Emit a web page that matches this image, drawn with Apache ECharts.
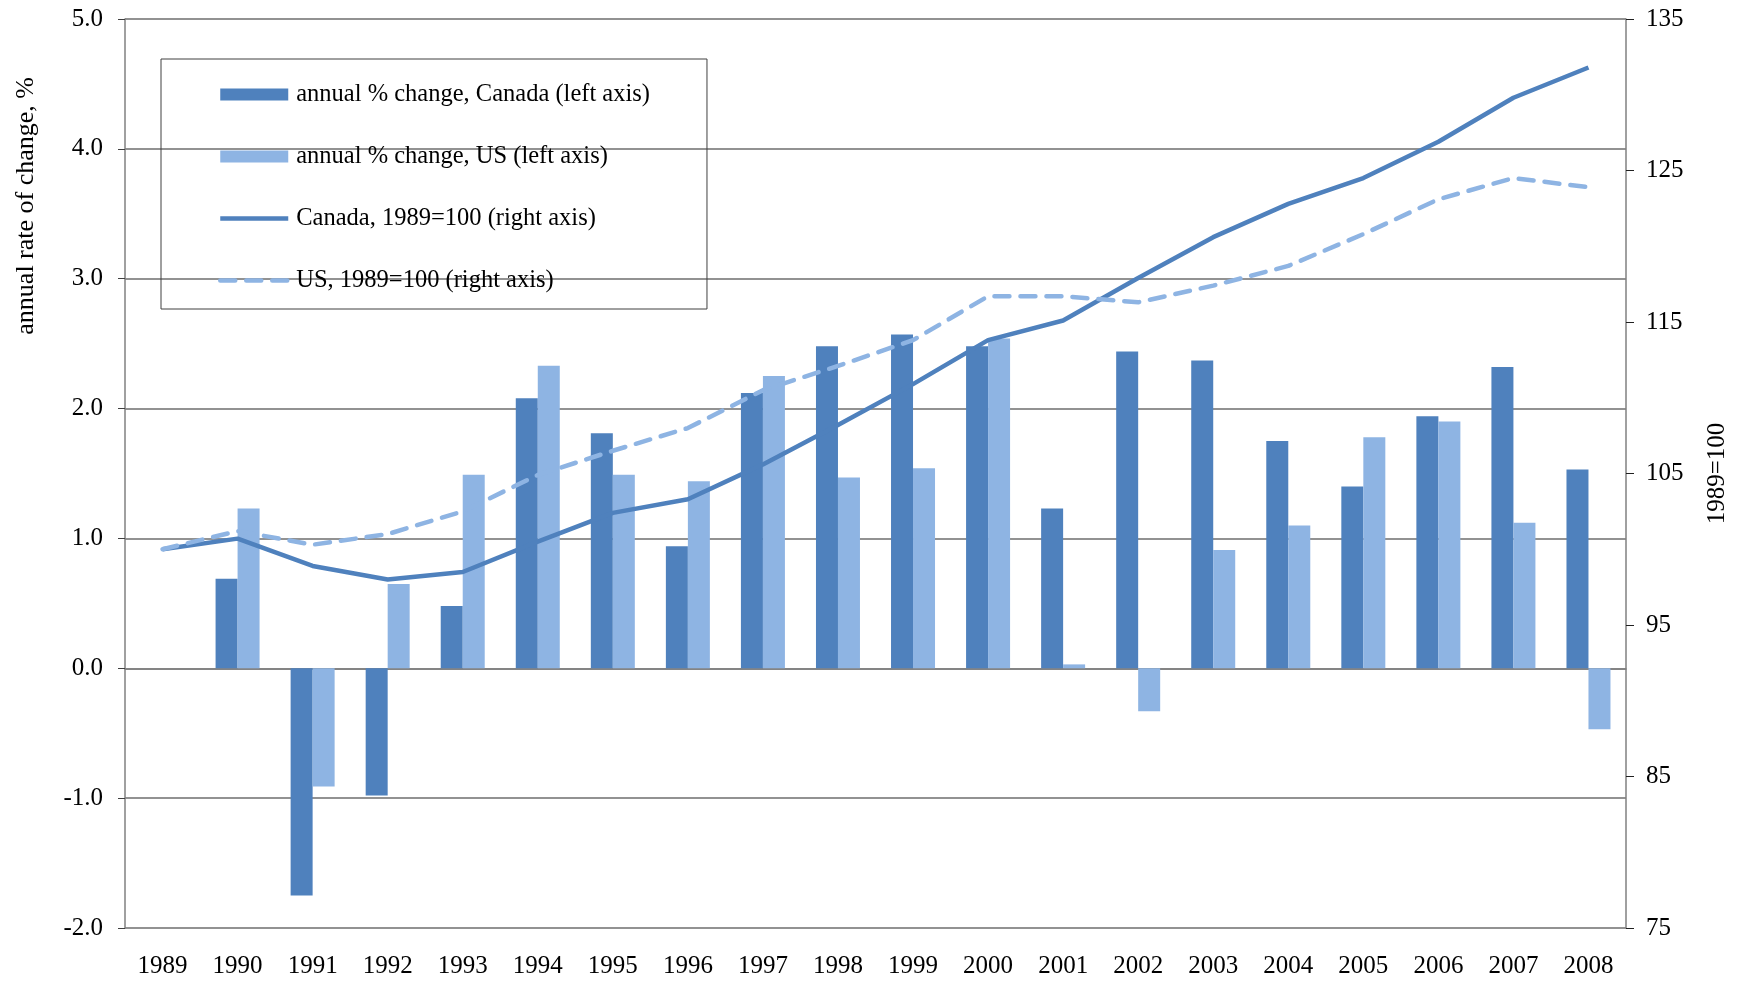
<!DOCTYPE html>
<html>
<head>
<meta charset="utf-8">
<script src="https://cdn.jsdelivr.net/npm/echarts@6/dist/echarts.min.js"></script>
<style>
	html, body { margin: 0; padding: 0; background: #fff; }
	#chart { width: 1738px; height: 983px; }
</style>
</head>
<body>
<div id="chart"></div>
<script>
var years = ['1989', '1990', '1991', '1992', '1993', '1994', '1995', '1996', '1997', '1998',
	'1999', '2000', '2001', '2002', '2003', '2004', '2005', '2006', '2007', '2008'];

// annual % change (left axis)
var canadaChange = [null, 0.69, -1.75, -0.98, 0.48, 2.08, 1.81, 0.94, 2.12, 2.48,
	2.57, 2.48, 1.23, 2.44, 2.37, 1.75, 1.40, 1.94, 2.32, 1.53];
var usChange = [null, 1.23, -0.91, 0.65, 1.49, 2.33, 1.49, 1.44, 2.25, 1.47,
	1.54, 2.54, 0.03, -0.33, 0.91, 1.10, 1.78, 1.90, 1.12, -0.47];

// index 1989=100 (right axis)
var canadaIndex = [100.0, 100.7, 98.9, 98.0, 98.5, 100.5, 102.4, 103.3, 105.6, 108.2,
	110.9, 113.8, 115.1, 117.9, 120.6, 122.8, 124.5, 126.9, 129.8, 131.8];
var usIndex = [100.0, 101.2, 100.3, 101.0, 102.5, 104.9, 106.5, 108.0, 110.5, 112.1,
	113.8, 116.7, 116.7, 116.3, 117.4, 118.7, 120.8, 123.1, 124.5, 123.9];

var darkBlue = '#4F81BD';
var lightBlue = '#8EB4E3';
var font = 'Liberation Serif';

var chart = echarts.init(document.getElementById('chart'));

var option = {
	animation: false,
	backgroundColor: '#fff',
	textStyle: { fontFamily: font },
	grid: { left: 125, right: 110, top: 19, bottom: 55 },
	legend: {
		orient: 'vertical',
		left: 161,
		top: 59,
		padding: [23, 57, 16, 57],
		itemGap: 37,
		itemWidth: 68,
		itemHeight: 12,
		borderColor: '#404040',
		borderWidth: 1,
		textStyle: { fontFamily: font, fontSize: 24.5, color: '#000', padding: [0, 0, 0, 3] },
		data: [
			{ name: 'annual % change, Canada (left axis)', icon: 'rect' },
			{ name: 'annual % change, US (left axis)', icon: 'rect' },
			{
				name: 'Canada, 1989=100 (right axis)',
				itemStyle: { opacity: 0 },
				lineStyle: { width: 4.5 }
			},
			{
				name: 'US, 1989=100 (right axis)',
				itemStyle: { opacity: 0 },
				lineStyle: { width: 4.5, type: [15, 11], cap: 'round' }
			}
		]
	},
	graphic: [{
		type: 'text',
		left: 13,
		top: 77,
		rotation: Math.PI / 2,
		style: {
			text: 'annual rate of change, %',
			font: '26px "Liberation Serif"',
			fill: '#000'
		}
	}],
	xAxis: [{
		type: 'category',
		data: years,
		axisLine: { onZero: true, onZeroAxisIndex: 0, lineStyle: { color: '#808080', width: 1.5 } },
		axisTick: { inside: true, length: 7, lineStyle: { color: '#404040' } },
		axisLabel: { show: false }
	}, {
		type: 'category',
		data: years,
		position: 'bottom',
		axisLine: { show: false },
		axisTick: { show: false },
		axisLabel: { fontFamily: font, fontSize: 25, color: '#000', margin: 26 }
	}],
	yAxis: [{
		type: 'value',
		min: -2,
		max: 5,
		interval: 1,
		axisLine: { show: true, lineStyle: { color: '#808080', width: 1.5 } },
		axisTick: { show: true, length: 7, lineStyle: { color: '#404040' } },
		axisLabel: {
			fontFamily: font, fontSize: 25, color: '#000', margin: 22,
			formatter: function (v) { return v.toFixed(1); }
		},
		splitLine: { lineStyle: { color: '#6e6e6e', width: 1.5 } }
	}, {
		type: 'value',
		min: 75,
		max: 135,
		interval: 10,
		position: 'right',
		name: '1989=100',
		nameLocation: 'middle',
		nameRotate: 90,
		nameGap: 79,
		nameTextStyle: { fontFamily: font, fontSize: 25, color: '#000' },
		axisLine: { show: true, lineStyle: { color: '#808080', width: 1.5 } },
		axisTick: { show: true, length: 8, lineStyle: { color: '#202020' } },
		axisLabel: { fontFamily: font, fontSize: 25, color: '#000', margin: 20 },
		splitLine: { show: false }
	}],
	series: [{
		name: 'annual % change, Canada (left axis)',
		type: 'bar',
		data: canadaChange,
		barWidth: 22,
		barGap: '0%',
		itemStyle: { color: darkBlue }
	}, {
		name: 'annual % change, US (left axis)',
		type: 'bar',
		data: usChange,
		barWidth: 22,
		barGap: '0%',
		itemStyle: { color: lightBlue }
	}, {
		name: 'Canada, 1989=100 (right axis)',
		type: 'line',
		yAxisIndex: 1,
		data: canadaIndex,
		symbol: 'none',
		lineStyle: { color: darkBlue, width: 4.5 },
		itemStyle: { color: darkBlue }
	}, {
		name: 'US, 1989=100 (right axis)',
		type: 'line',
		yAxisIndex: 1,
		data: usIndex,
		symbol: 'none',
		lineStyle: { color: lightBlue, width: 4.5, type: [15, 11], cap: 'round' },
		itemStyle: { color: lightBlue }
	}]
};

chart.setOption(option);
</script>
</body>
</html>
